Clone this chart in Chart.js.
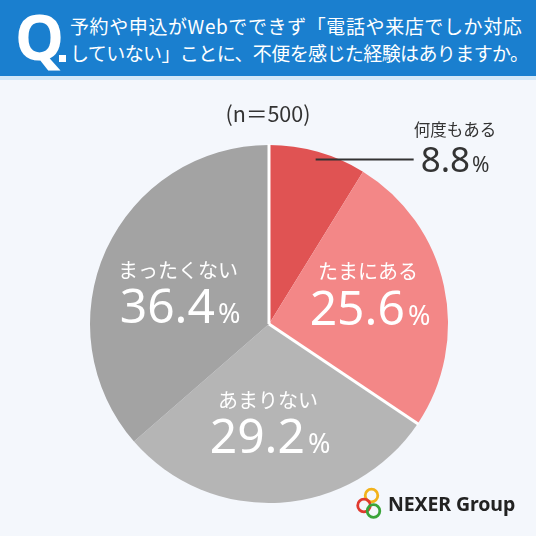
<!DOCTYPE html>
<html>
<head>
<meta charset="utf-8">
<script src="https://cdn.jsdelivr.net/npm/chart.js@4.4.1/dist/chart.umd.min.js"></script>
<style>
  html, body { margin:0; padding:0; }
  body { width:536px; height:536px; background:#f4f7fc; position:relative; overflow:hidden;
         font-family:"Noto Sans CJK JP","Noto Sans",sans-serif; }
  #hdr { position:absolute; left:0; top:0; width:536px; height:76px; background:#1a7fcf; }
  #strip { position:absolute; left:0; top:76px; width:536px; height:4px; background:#d3e8f8; }
  #q { position:absolute; left:15px; top:-4px; color:#fff; font-family:"Noto Sans","DejaVu Sans",sans-serif;
       font-weight:700; font-size:62px; line-height:80px; }
  #qdot { position:absolute; left:59px; top:55px; width:7px; height:7px; background:#fff; }
  .qt { position:absolute; left:70px; color:#fff; font-size:19px; line-height:27px; white-space:nowrap; }
  #qt1 { top:12px; letter-spacing:0.6px; }
  #qt2 { top:39px; letter-spacing:-0.6px; }
  #n { position:absolute; left:0; width:536px; top:97px; text-align:center; font-size:21.5px; color:#333;
       font-family:"Noto Sans CJK JP","Noto Sans",sans-serif; }
  #logo { position:absolute; left:354px; top:486px; width:180px; height:36px; }
  #logotxt { position:absolute; left:34px; top:4px; font-family:"Noto Sans","DejaVu Sans",sans-serif;
             font-size:19.5px; font-weight:700; color:#222; white-space:nowrap; letter-spacing:-0.1px; }
  canvas { position:absolute; left:0; top:0; }
</style>
</head>
<body>
<canvas id="c" width="536" height="536"></canvas>
<div id="hdr"></div>
<div id="strip"></div>
<div id="q">Q</div>
<div id="qdot"></div>
<div class="qt" id="qt1">予約や申込がWebでできず「電話や来店でしか対応</div>
<div class="qt" id="qt2">していない」ことに、不便を感じた経験はありますか。</div>
<div id="n">(n＝500)</div>
<div id="logo">
  <svg width="34" height="36" style="position:absolute;left:0;top:0">
    <circle cx="17.5" cy="9.5" r="6.3" fill="none" stroke="#f2b21b" stroke-width="2.8"/>
    <circle cx="10" cy="19.5" r="6.3" fill="none" stroke="#e03a2f" stroke-width="2.8"/>
    <circle cx="19.5" cy="25" r="6.3" fill="none" stroke="#3aa43a" stroke-width="2.8"/>
  </svg>
  <div id="logotxt">NEXER Group</div>
</div>
<script>
const categories = ["何度もある", "たまにある", "あまりない", "まったくない"];
const values = [8.8, 25.6, 29.2, 36.4];
const colors = ["#e05353", "#f38787", "#b5b5b5", "#a3a3a3"];
const sampleLabel = "(n＝500)";

// label placement style (radius fraction and angular nudge in degrees)
const labelRadius = [0.955, 0.592, 0.536, 0.532];
const labelNudge = [0, -5.4, 3, -3.6];

const labelPlugin = {
  id: 'labels',
  afterDatasetsDraw(chart) {
    const ctx = chart.ctx;
    const meta = chart.getDatasetMeta(0);
    const els = meta.data;
    // separators between red group and gray group
    ctx.save();
    ctx.strokeStyle = '#ffffff';
    ctx.lineWidth = 3;
    [els[0].startAngle, els[1].endAngle].forEach(a => {
      const e = els[0];
      ctx.beginPath();
      ctx.moveTo(e.x, e.y);
      ctx.lineTo(e.x + Math.cos(a) * (e.outerRadius + 1), e.y + Math.sin(a) * (e.outerRadius + 1));
      ctx.stroke();
    });
    ctx.restore();

    els.forEach((el, i) => {
      const mid = (el.startAngle + el.endAngle) / 2 + labelNudge[i] * Math.PI / 180;
      const r = el.outerRadius * labelRadius[i];
      const px = el.x + Math.cos(mid) * r;
      const py = el.y + Math.sin(mid) * r;
      const num = values[i].toFixed(1);
      ctx.save();
      if (i === 0) {
        // callout
        ctx.strokeStyle = '#333';
        ctx.lineWidth = 2;
        ctx.beginPath();
        ctx.moveTo(px, py);
        ctx.lineTo(px + 98, py);
        ctx.stroke();
        const lx = px + 101;
        ctx.fillStyle = '#333';
        ctx.textBaseline = 'middle';
        ctx.textAlign = 'left';
        ctx.font = '16.5px "Noto Sans CJK JP"';
        ctx.fillText(categories[i], lx - 3, py - 30);
        ctx.textBaseline = 'alphabetic';
        ctx.font = '35px "Noto Sans"';
        ctx.fillText(num, lx + 4, py + 12);
        const w = ctx.measureText(num).width;
        ctx.font = '21px "Noto Sans"';
        ctx.fillText('%', lx + 6 + w, py + 12);
      } else {
        ctx.fillStyle = '#ffffff';
        ctx.textAlign = 'center';
        ctx.textBaseline = 'middle';
        ctx.font = '20px "Noto Sans CJK JP"';
        ctx.fillText(categories[i], px - 2, py - 20);
        ctx.textBaseline = 'alphabetic';
        ctx.font = '48px "Noto Sans"';
        const w = ctx.measureText(num).width;
        ctx.font = '27px "Noto Sans"';
        const wp = ctx.measureText('%').width;
        const total = w + 3 + wp;
        const sx = px - total / 2;
        ctx.textAlign = 'left';
        ctx.font = '48px "Noto Sans"';
        ctx.fillText(num, sx, py + 33);
        ctx.font = '27px "Noto Sans"';
        ctx.fillText('%', sx + w + 3, py + 33);
      }
      ctx.restore();
    });
  }
};

new Chart(document.getElementById('c'), {
  type: 'pie',
  data: {
    labels: categories,
    datasets: [{ data: values, backgroundColor: colors, borderWidth: 0 }]
  },
  options: {
    responsive: false,
    animation: false,
    layout: { padding: { left: 90, right: 88, top: 145, bottom: 33 } },
    plugins: { legend: { display: false }, tooltip: { enabled: false } }
  },
  plugins: [labelPlugin]
});
</script>
</body>
</html>
